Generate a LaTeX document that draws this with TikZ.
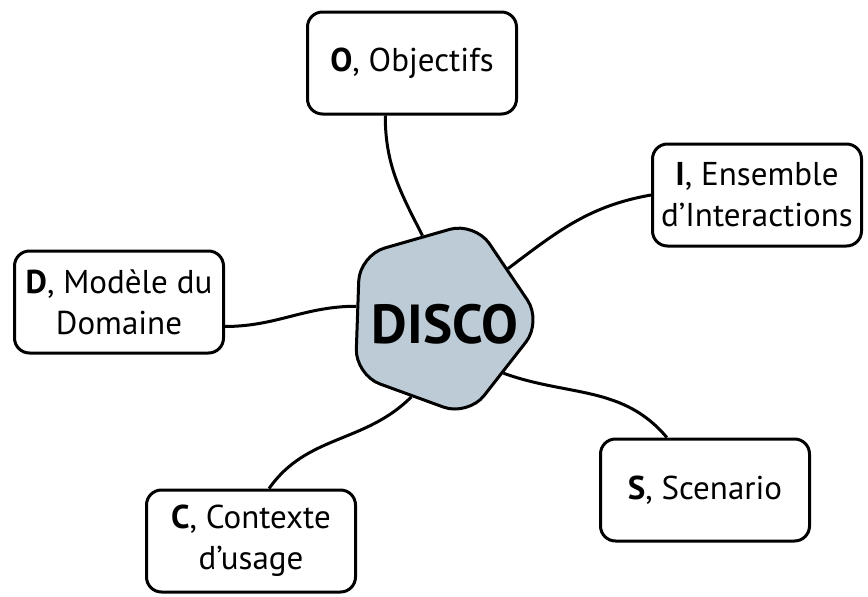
\documentclass[tikz,border=0pt]{standalone}
\usepackage{fontspec}
\setmainfont{PT Sans}
\usetikzlibrary{shapes.geometric}
\definecolor{discogrey}{RGB}{188,203,213}

\begin{document}
\begin{tikzpicture}[x=1pt,y=-1pt,
  box/.style={draw,line width=3pt,rounded corners=15pt,align=center,
    minimum width=209pt,minimum height=102pt,inner sep=2pt,
    font=\fontsize{33}{41}\selectfont},
  link/.style={line width=3pt}]
\useasboundingbox (0,0) rectangle (868,597);

\draw (440,318) node[regular polygon,regular polygon sides=5,shape border rotate=-20,
  minimum size=204pt,inner sep=0pt,draw,line width=3pt,rounded corners=26pt,
  fill=discogrey] (disco) {};
\draw (445,324) node[font=\fontsize{55}{60}\selectfont\bfseries] (discotext) {DISCO};

\draw (412,63) node[box] (obj) {\textbf{O}, Objectifs};
\draw (757,195) node[box] (inter) {\textbf{I}, Ensemble\\d’Interactions};
\draw (119,302) node[box] (dom) {\textbf{D}, Modèle du\\Domaine};
\draw (705,490) node[box] (scen) {\textbf{S}, Scenario};
\draw (251,541) node[box] (ctx) {\textbf{C}, Contexte\\d’usage};

\draw[link] (disco.102) to[out=117,in=-90] (obj.-117);
\draw[link] (disco.36) to[out=37,in=190] (inter.west);
\draw[link] (disco.172) to[out=180,in=0] (dom.-13);
\draw[link] (disco.-41) to[out=-20,in=130] (scen.126);
\draw[link] (disco.-110) to[out=-135,in=55] (ctx.71);

\end{tikzpicture}
\end{document}
